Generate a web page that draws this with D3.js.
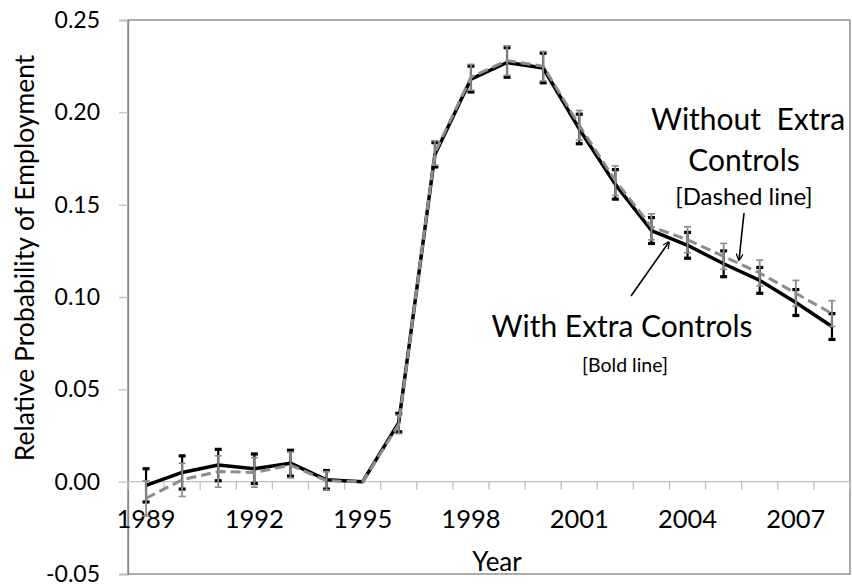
<!DOCTYPE html>
<html>
<head>
<meta charset="utf-8">
<script src="https://cdn.jsdelivr.net/npm/d3@7"></script>
<style>
  html, body { margin: 0; padding: 0; background: #ffffff; }
  svg { display: block; font-family: Lato, "Open Sans", sans-serif; }
</style>
</head>
<body>
<svg id="chart" width="852" height="586"></svg>
<script>
// ---- data ----
const years = [1989, 1990, 1991, 1992, 1993, 1994, 1995, 1996, 1997, 1998,
               1999, 2000, 2001, 2002, 2003, 2004, 2005, 2006, 2007, 2008];
const withControls    = [-0.002, 0.005, 0.009, 0.007, 0.010, 0.001, 0.000, 0.032, 0.177, 0.218,
                          0.227, 0.224, 0.191, 0.161, 0.136, 0.128, 0.118, 0.109, 0.097, 0.084];
const withErr         = [0.009, 0.009, 0.0085, 0.008, 0.007, 0.005, 0, 0.005, 0.0066, 0.007,
                          0.008, 0.008, 0.008, 0.008, 0.007, 0.007, 0.007, 0.007, 0.007, 0.007];
const withoutControls = [-0.009, 0.001, 0.0055, 0.005, 0.009, 0.0005, 0.000, 0.031, 0.178, 0.219,
                          0.228, 0.225, 0.193, 0.163, 0.138, 0.131, 0.122, 0.113, 0.102, 0.091];
const withoutErr      = [0.0095, 0.009, 0.0085, 0.008, 0.007, 0.005, 0, 0.005, 0.0066, 0.007,
                          0.008, 0.008, 0.008, 0.008, 0.007, 0.007, 0.007, 0.007, 0.007, 0.007];
const yTicks = [-0.05, 0.00, 0.05, 0.10, 0.15, 0.20, 0.25];
const xTickLabels = [1989, 1992, 1995, 1998, 2001, 2004, 2007];
const yTitle = "Relative Probability of Employment";
const xTitle = "Year";

// ---- layout ----
const svg = d3.select("#chart");
const L = 128, R = 850, T = 20, B = 574;
const x = d3.scaleBand().domain(years).range([L, R]);
const cx = d => x(d) + x.bandwidth() / 2;
const y = d3.scaleLinear().domain([-0.05, 0.25]).range([B, T]);
const fmt = d => d3.format(".2f")(d).replace("\u2212", "-");

// plot-area border
svg.append("rect").attr("x", L).attr("y", T).attr("width", R - L).attr("height", B - T)
  .attr("fill", "none").attr("stroke", "#7f7f7f").attr("stroke-width", 1.3);

// y axis
const yAxis = svg.append("g").attr("transform", `translate(${L},0)`)
  .call(d3.axisLeft(y).tickValues(yTicks).tickSize(9).tickPadding(19).tickFormat(fmt));
yAxis.select(".domain").attr("stroke", "#868686").attr("stroke-width", 1.3);
yAxis.selectAll(".tick line").attr("stroke", "#bfbfbf").attr("stroke-width", 1.3);
yAxis.selectAll(".tick text").attr("fill", "#000").style("font-size", "23px")
  .style("font-family", "Lato, sans-serif");

// x axis (at y = 0), ticks between categories
const x0 = y(0);
const xAxisG = svg.append("g");
xAxisG.append("line").attr("x1", L).attr("x2", R).attr("y1", x0).attr("y2", x0)
  .attr("stroke", "#bfbfbf").attr("stroke-width", 1.3);
xAxisG.selectAll("line.tk").data(years.concat(["end"])).join("line").attr("class", "tk")
  .attr("x1", d => d === "end" ? R : x(d)).attr("x2", d => d === "end" ? R : x(d))
  .attr("y1", x0).attr("y2", x0 + 8)
  .attr("stroke", "#bfbfbf").attr("stroke-width", 1.3);
xAxisG.selectAll("text").data(xTickLabels).join("text")
  .attr("x", d => cx(d)).attr("y", 528).attr("text-anchor", "middle")
  .style("font-size", "25.5px").attr("fill", "#000").text(d => d);

// titles
svg.append("text").attr("transform", `translate(34,258) rotate(-90)`)
  .attr("text-anchor", "middle").style("font-size", "26.5px").attr("fill", "#000").text(yTitle);
svg.append("text").attr("x", 497).attr("y", 571).attr("text-anchor", "middle")
  .style("font-size", "26px").attr("fill", "#000").text(xTitle);

// ---- series ----
function drawSeries(vals, errs, opts) {
  const g = svg.append("g");
  const pts = years.map((yr, i) => ({ yr, v: vals[i], e: errs[i] }));
  const eb = pts.filter(p => p.e > 0);
  g.selectAll("line.eb").data(eb).join("line").attr("class", "eb")
    .attr("x1", d => cx(d.yr)).attr("x2", d => cx(d.yr))
    .attr("y1", d => y(d.v - d.e)).attr("y2", d => y(d.v + d.e))
    .attr("stroke", opts.barColor).attr("stroke-width", opts.barWidth);
  ["lo", "hi"].forEach(k => {
    g.selectAll("line.cap" + k).data(eb).join("line").attr("class", "cap" + k)
      .attr("x1", d => cx(d.yr) - 3.5).attr("x2", d => cx(d.yr) + 3.5)
      .attr("y1", d => y(k === "lo" ? d.v - d.e : d.v + d.e))
      .attr("y2", d => y(k === "lo" ? d.v - d.e : d.v + d.e))
      .attr("stroke", opts.barColor).attr("stroke-width", opts.capWidth);
  });
  const line = d3.line().x(d => cx(d.yr)).y(d => y(d.v));
  g.append("path").datum(pts).attr("d", line).attr("fill", "none")
    .attr("stroke", opts.color).attr("stroke-width", opts.width)
    .attr("stroke-dasharray", opts.dash || null)
    .attr("stroke-linejoin", "round");
}

drawSeries(withControls, withErr,
  { color: "#000", width: 3.5, barColor: "#000", barWidth: 2.2, capWidth: 3.2 });
drawSeries(withoutControls, withoutErr,
  { color: "#8c8c8c", width: 3, dash: "10,5", barColor: "#8c8c8c", barWidth: 1.8, capWidth: 1.6 });

// ---- annotations ----
const ann = svg.append("g").attr("fill", "#000").attr("text-anchor", "middle");
ann.append("text").attr("x", 748).attr("y", 130).style("font-size", "30px").attr("xml:space", "preserve").text("Without  Extra");
ann.append("text").attr("x", 744).attr("y", 171).style("font-size", "30px").text("Controls");
ann.append("text").attr("x", 744).attr("y", 205).style("font-size", "24px").text("[Dashed line]");
ann.append("text").attr("x", 622).attr("y", 337).style("font-size", "30px").text("With Extra Controls");
ann.append("text").attr("x", 625).attr("y", 372).style("font-size", "19.5px").text("[Bold line]");

const defs = svg.append("defs");
defs.append("marker").attr("id", "arr").attr("viewBox", "0 0 10 10").attr("refX", 9).attr("refY", 5)
  .attr("markerWidth", 7).attr("markerHeight", 7).attr("markerUnits", "userSpaceOnUse").attr("orient", "auto")
  .append("path").attr("d", "M0,0 L10,5 L0,10").attr("fill", "none").attr("stroke", "#000").attr("stroke-width", 1.8);
svg.append("line").attr("x1", 631).attr("y1", 296).attr("x2", 669).attr("y2", 242)
  .attr("stroke", "#000").attr("stroke-width", 1.6).attr("marker-end", "url(#arr)");
svg.append("line").attr("x1", 744).attr("y1", 213).attr("x2", 739).attr("y2", 260)
  .attr("stroke", "#000").attr("stroke-width", 1.6).attr("marker-end", "url(#arr)");
</script>
</body>
</html>
